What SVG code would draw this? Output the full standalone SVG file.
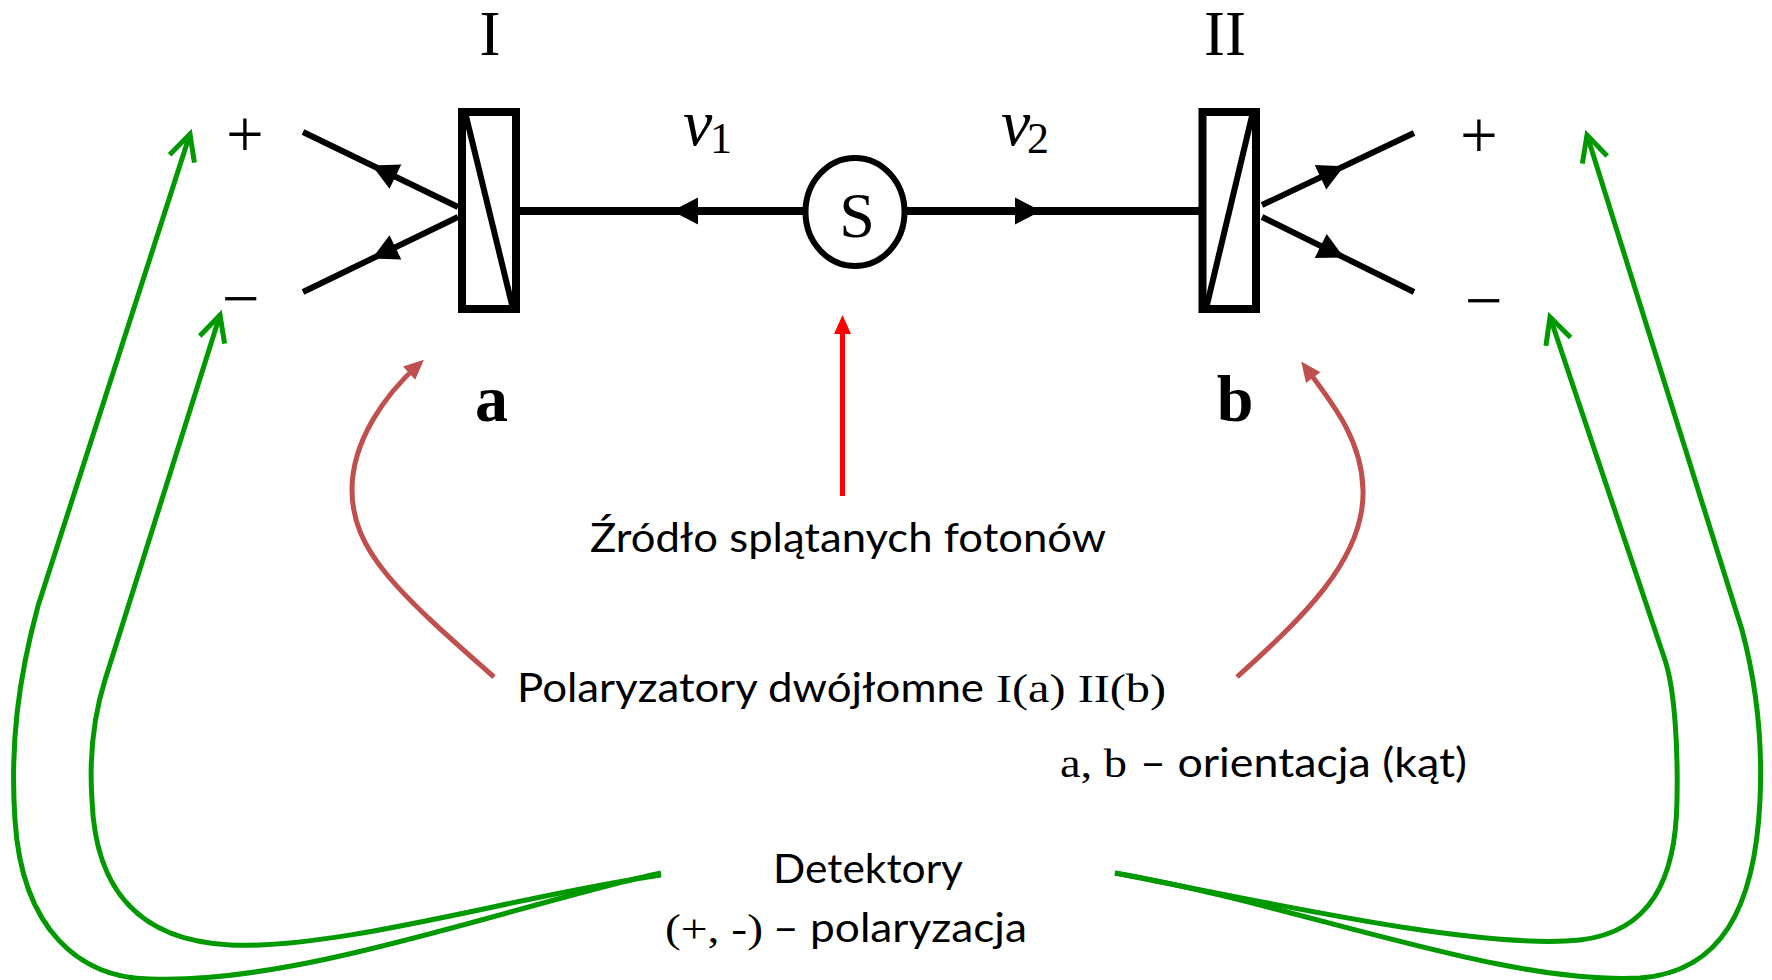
<svg xmlns="http://www.w3.org/2000/svg" width="1772" height="980" viewBox="0 0 1772 980">
<style>
.serif{font-family:"Liberation Serif","Times New Roman",serif;fill:#000}
.sans{font-family:Lato,"Open Sans","Liberation Sans",sans-serif;fill:#000;font-size:40px}
.blk{stroke:#000;fill:none}
.green{stroke:#009900;stroke-width:5;fill:none;marker-end:url(#gv)}
.brown{stroke:#C0504D;stroke-width:5;fill:none;marker-end:url(#bv)}
</style>
<defs>
<path id="ah" d="M0,0 L-26,-13.5 L-26,13.5 Z" fill="#000"/>
<marker id="gv" markerUnits="userSpaceOnUse" viewBox="-32 -20 40 40" markerWidth="40" markerHeight="40" refX="0" refY="0" orient="auto"><path d="M-26,-13 L0,0 L-26,13" fill="none" stroke="#009900" stroke-width="5" stroke-linejoin="miter"/></marker>
<marker id="bv" markerUnits="userSpaceOnUse" viewBox="-16 -12 28 24" markerWidth="28" markerHeight="24" refX="0" refY="0" orient="auto"><path d="M-12,-9 L8,0 L-12,9 Z" fill="#C0504D"/></marker>
</defs>

<g id="connectors">
  <!-- main photon lines -->
  <line class="blk" x1="520" y1="211" x2="803" y2="211" stroke-width="8"/>
  <use href="#ah" transform="translate(672,211) rotate(180)"/>
  <line class="blk" x1="907" y1="211" x2="1199" y2="211" stroke-width="8"/>
  <use href="#ah" transform="translate(1041,211)"/>
  <!-- left branches -->
  <line class="blk" x1="458" y1="207" x2="303" y2="132" stroke-width="6"/>
  <use href="#ah" transform="translate(372,165.4) rotate(205.8)"/>
  <line class="blk" x1="458" y1="217" x2="303" y2="292" stroke-width="6"/>
  <use href="#ah" transform="translate(372,258.6) rotate(154.2)"/>
  <!-- right branches -->
  <line class="blk" x1="1262" y1="205" x2="1414" y2="133" stroke-width="6"/>
  <use href="#ah" transform="translate(1344,166.2) rotate(-25.3)"/>
  <line class="blk" x1="1262" y1="217" x2="1414" y2="292" stroke-width="6"/>
  <use href="#ah" transform="translate(1344,257.5) rotate(26.3)"/>
  <!-- red source pointer -->
  <line x1="842.5" y1="496" x2="842.5" y2="330" stroke="#FF0000" stroke-width="5"/>
  <path d="M842.5,315 L851,334 L834,334 Z" fill="#FF0000"/>
  <!-- brown polarizer pointers -->
  <path class="brown" d="M494,677 C396,591 352,550 352,490 C352,440 386,394 418,365"/>
  <path class="brown" d="M1237,677 C1300,620 1365,560 1363,490 C1362,440 1333,404 1306,368"/>
  <!-- green detector pointers -->
  <path class="green" d="M661,873 C520,903 300,985 150,979 C80,978 22,930 15,820 C10,745 18,680 38,606 L190,134"/>
  <path class="green" d="M661,875 C520,895 340,950 230,945 C130,940 95,880 92,800 C89,755 94,715 105,680 L220,315"/>
  <path class="green" d="M1115,873 C1280,905 1480,950 1580,940 C1650,932 1676,880 1677,800 C1678,750 1675,690 1665,660 L1550,317"/>
  <path class="green" d="M1115,873 C1300,905 1500,985 1640,978 C1720,972 1755,910 1760,800 C1763,735 1754,675 1742,630 L1587,135"/>
</g>

<g id="source">
  <ellipse cx="855" cy="212" rx="49.5" ry="54" fill="#fff" stroke="#000" stroke-width="6"/>
  <text class="serif" x="857" y="237" font-size="64" text-anchor="middle">S</text>
</g>

<g id="polarizer-I">
  <rect x="462" y="112" width="54" height="197" fill="#fff" stroke="#000" stroke-width="8"/>
  <line x1="466" y1="116" x2="513" y2="309" stroke="#000" stroke-width="6"/>
  <text class="serif" x="490" y="55" font-size="63" text-anchor="middle">I</text>
  <text class="serif" x="491.5" y="421" font-size="66" font-weight="bold" text-anchor="middle">a</text>
</g>

<g id="polarizer-II">
  <rect x="1202.5" y="112" width="53.5" height="197" fill="#fff" stroke="#000" stroke-width="8"/>
  <line x1="1206" y1="309" x2="1252" y2="116" stroke="#000" stroke-width="6"/>
  <text class="serif" x="1225" y="55" font-size="63" text-anchor="middle">II</text>
  <text class="serif" x="1235" y="421" font-size="66" font-weight="bold" text-anchor="middle">b</text>
</g>

<g id="photon-labels">
  <text class="serif" y="145" font-size="66"><tspan x="683" font-style="italic">ν</tspan><tspan x="710" y="153" font-size="44">1</tspan></text>
  <text class="serif" y="145" font-size="66"><tspan x="1001" font-style="italic">ν</tspan><tspan x="1027" y="153" font-size="44">2</tspan></text>
</g>

<g id="detector-I-plus"><text class="serif" x="245" y="157" font-size="67" text-anchor="middle">+</text></g>
<g id="detector-I-minus"><text class="serif" x="241" y="321" font-size="67" text-anchor="middle">−</text></g>
<g id="detector-II-plus"><text class="serif" x="1479" y="158" font-size="67" text-anchor="middle">+</text></g>
<g id="detector-II-minus"><text class="serif" x="1484" y="323" font-size="67" text-anchor="middle">−</text></g>

<g id="label-source">
  <text class="sans" x="590" y="552" textLength="516" lengthAdjust="spacingAndGlyphs">Źródło splątanych fotonów</text>
</g>
<g id="label-polarizers">
  <text y="702"><tspan class="sans" x="517" textLength="467" lengthAdjust="spacingAndGlyphs">Polaryzatory dwójłomne</tspan> <tspan class="serif" x="996" font-size="40" textLength="170" lengthAdjust="spacingAndGlyphs">I(a) II(b)</tspan></text>
</g>
<g id="label-orientation">
  <text y="777"><tspan class="serif" x="1060" font-size="40" textLength="67" lengthAdjust="spacingAndGlyphs">a, b</tspan> <tspan class="sans" x="1140" textLength="327" lengthAdjust="spacingAndGlyphs">– orientacja (kąt)</tspan></text>
</g>
<g id="label-detectors">
  <text class="sans" x="773" y="883" textLength="190" lengthAdjust="spacingAndGlyphs">Detektory</text>
  <text y="942"><tspan class="serif" x="665" font-size="40" textLength="98" lengthAdjust="spacingAndGlyphs">(+, -)</tspan> <tspan class="sans" x="773" textLength="254" lengthAdjust="spacingAndGlyphs">– polaryzacja</tspan></text>
</g>
</svg>
